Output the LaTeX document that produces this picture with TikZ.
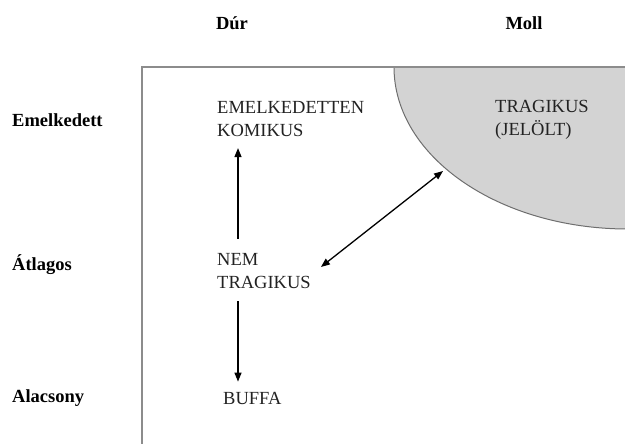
\documentclass[tikz,border=0pt]{standalone}
\usepackage{fontspec}
\setmainfont{Liberation Serif}
\usetikzlibrary{arrows.meta,calc}
\definecolor{framegray}{HTML}{8C8C8C}
\definecolor{fillgray}{HTML}{D3D3D3}
\definecolor{arcgray}{HTML}{6E6E6E}
\definecolor{txt}{HTML}{222222}
\tikzset{
  axislabel/.style={font=\fontsize{18.5pt}{23.5pt}\selectfont\bfseries, text=black, inner sep=0pt},
  celltext/.style={font=\fontsize{18.5pt}{23.5pt}\selectfont, text=txt, inner sep=0pt, align=left, anchor=west},
  arr/.style={line width=1.3pt, -{Triangle[length=9pt,width=7pt]}},
  darr/.style={line width=1.3pt, {Triangle[length=9pt,width=7pt]}-{Triangle[length=9pt,width=7pt]}}
}
\begin{document}
\begin{tikzpicture}[x=1pt,y=-1pt]
\useasboundingbox (0,0) rectangle (625,444);
\begin{scope}
\clip (0,0) rectangle (625,444);
\fill[fillgray] (394,67) arc[start angle=180, end angle=270, x radius=234pt, y radius=162pt] -- (640,229) -- (640,67) -- cycle;
\draw[arcgray, line width=1pt] (394,67) arc[start angle=180, end angle=270, x radius=234pt, y radius=162pt];
\draw[framegray, line width=1.6pt] (640,67) -- (142,67) -- (142,450);
\end{scope}
% axis labels
\node[axislabel] (dur) at (232,23) {Dúr};
\node[axislabel] (moll) at (524,23) {Moll};
\node[axislabel, anchor=west] (emel) at (12,120) {Emelkedett};
\node[axislabel, anchor=west] (atl) at (12,265) {Átlagos};
\node[axislabel, anchor=west] (alac) at (12,398) {Alacsony};
% cells
\node[celltext] (ek) at (217,119) {EMELKEDETTEN\\KOMIKUS};
\node[celltext] (trag) at (495,120) {TRAGIKUS\\(JELÖLT)};
\node[celltext] (nem) at (217,271) {NEM\\TRAGIKUS};
\node[celltext] (buffa) at (223,398) {BUFFA};
\coordinate (arcpt) at (443,171);
% arrows
\draw[arr] ([xshift=21pt,yshift=14pt]nem.north west) -- ([xshift=21pt,yshift=-11pt]ek.south west);
\draw[arr] ([xshift=21pt,yshift=-12pt]nem.south west) -- ([xshift=15pt,yshift=10pt]buffa.north west);
\draw[darr] ([xshift=10pt,yshift=4pt]nem.east) -- (arcpt);
\end{tikzpicture}
\end{document}
